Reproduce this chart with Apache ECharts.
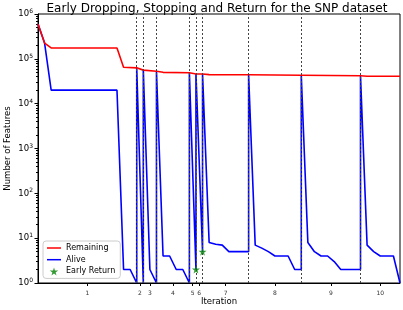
<!DOCTYPE html>
<html><head><meta charset="utf-8">
<script src="https://cdn.jsdelivr.net/npm/echarts@6/dist/echarts.min.js"></script>
<style>html,body{margin:0;padding:0;background:#fff}#c{width:403px;height:310px}</style>
</head><body><div id="c"></div>
<script>
const titleText = 'Early Dropping, Stopping and Return for the SNP dataset';
const remaining = [[0,6e5],[1,2.25e5],[2,1.75e5],[12,1.75e5],[13,6.5e4],[15,6.3e4],[16,5.6e4],[18,5.3e4],[19,5.0e4],[23,4.9e4],[24,4.6e4],[25,4.6e4],[26,4.45e4],[32,4.4e4],[40,4.3e4],[49,4.2e4],[50,4.1e4],[55,4.1e4]];
const alive = [[0,6e5],[1,2.25e5],[2,2e4],[12,2e4],[13,2],[14,2],[15,1],[15,6.3e4],[16,1],[16,5.6e4],[17,2],[18,1],[18,5.3e4],[19,4],[20,4],[21,2],[22,2],[23,1],[23,4.9e4],[24,2],[24,4.6e4],[25,5],[25,4.6e4],[26,8],[27,7.3],[28,7],[29,5],[32,5],[32,4.4e4],[33,7],[34,6],[35,5],[36,4],[38,4],[39,2],[40,2],[40,4.3e4],[41,8],[42,5],[43,4],[44,4],[45,3],[46,2],[49,2],[49,4.2e4],[50,7],[51,5],[52,4],[54,4],[55,1]];
const earlyReturn = [[24,2],[25,5]];
const restartSteps = [15,16,18,23,24,25,32,40,49];
const tickPositions = [7.5,15.5,17,20.5,23.5,24.5,28.5,36,44.5,52];
const tickLabels = ['1','2','3','4','5','6','7','8','9','10'];
const yMajorTicks = [1,10,100,1e3,1e4,1e5,1e6];
const yMinorTicks = [];
for (let e = 0; e < 6; e++) for (let m = 2; m <= 9; m++) yMinorTicks.push(m * Math.pow(10, e));

const star = 'path://M50,0 L61,35 L98,35 L68,57 L79,91 L50,70 L21,91 L32,57 L2,35 L39,35 Z';
const lineIcon = 'path://M0,0 L28,0 L28,3 L0,3 Z';
const font = 'DejaVu Sans';
const chart = echarts.init(document.getElementById('c'), null, {renderer: 'canvas'});
chart.setOption({
  animation: false,
  textStyle: {fontFamily: font},
  title: {text: titleText, left: 212, top: -2, textAlign: 'center',
    textStyle: {fontFamily: font, fontSize: 12, fontWeight: 'normal', color: '#000'}},
  grid: {left: 38, right: 3, top: 14, bottom: 27, containLabel: false, outerBoundsMode: 'none',
    show: true, borderColor: '#000', borderWidth: 1, backgroundColor: 'transparent'},
  legend: {
    orient: 'vertical', left: 43, top: 241, itemWidth: 14, itemHeight: 8, itemGap: 3.7,
    padding: [3, 5, 3, 4], backgroundColor: '#fff', borderColor: '#ccc', borderWidth: 1, borderRadius: 3,
    symbolKeepAspect: true,
    textStyle: {fontFamily: font, fontSize: 8, color: '#000'},
    data: [{name: 'Remaining', icon: lineIcon}, {name: 'Alive', icon: lineIcon}, {name: 'Early Return', icon: star}]
  },
  xAxis: {
    type: 'value', min: 0, max: 55, name: 'Iteration', nameLocation: 'middle', nameGap: 14, nameMoveOverlap: false,
    nameTextStyle: {fontFamily: font, fontSize: 8.5, color: '#000'},
    splitLine: {show: false},
    axisLine: {lineStyle: {color: '#000', width: 1}},
    axisTick: {customValues: tickPositions, length: 3, lineStyle: {color: '#000'}},
    axisLabel: {customValues: tickPositions, fontSize: 6, color: '#333', margin: 7,
      formatter: v => { const i = tickPositions.indexOf(v); return i >= 0 ? tickLabels[i] : ''; }}
  },
  yAxis: [{
    type: 'log', logBase: 10, min: 1, max: 1e6, name: 'Number of Features', nameLocation: 'middle', nameGap: 26, nameMoveOverlap: false,
    nameTextStyle: {fontFamily: font, fontSize: 8.5, color: '#000'},
    splitLine: {show: false},
    axisLine: {show: true, lineStyle: {color: '#000', width: 1}},
    axisTick: {customValues: yMajorTicks, length: 3.5, lineStyle: {color: '#000'}},
    axisLabel: {customValues: yMajorTicks, margin: 5, color: '#000',
      formatter: v => '{b|10}{s|' + Math.round(Math.log10(v)) + '}',
      rich: {b: {fontSize: 8.5, fontFamily: font, color: '#000'}, s: {fontSize: 6, fontFamily: font, color: '#000', padding: [0, 0, 5, 0]}}}
  }, {
    type: 'log', logBase: 10, min: 1, max: 1e6, position: 'left', offset: 0,
    splitLine: {show: false}, axisLine: {show: false},
    axisTick: {customValues: yMinorTicks, length: 2, lineStyle: {color: '#000'}},
    axisLabel: {show: false}
  }],
  series: [
    {name: 'Remaining', type: 'line', data: remaining, symbol: 'none', color: '#ff0000',
      lineStyle: {color: '#ff0000', width: 1.6}, z: 3},
    {name: 'Alive', type: 'line', data: alive, symbol: 'none', color: '#0000ff',
      lineStyle: {color: '#0000ff', width: 1.6}, z: 2},
    {name: 'Early Return', type: 'scatter', data: earlyReturn, symbol: star, symbolSize: 8,
      itemStyle: {color: '#008000'}, color: '#008000', z: 5},
    {name: 'restarts', type: 'line', data: [], z: 4,
      markLine: {silent: true, symbol: 'none', label: {show: false},
        lineStyle: {color: '#444', type: [2, 2], width: 1},
        data: restartSteps.map(x => ({xAxis: x}))}}
  ]
});
</script></body></html>
